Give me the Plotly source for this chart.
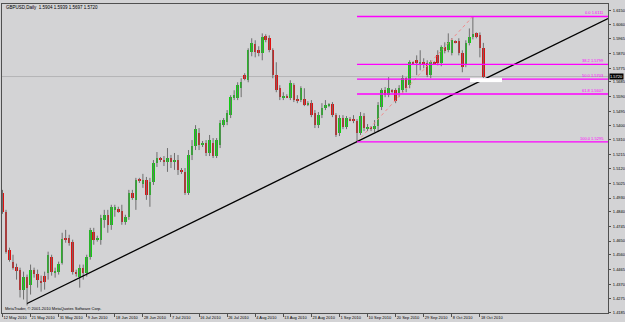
import plotly.graph_objects as go

# ---------------- data ----------------
symbol_title = "GBPUSD,Daily"
credit_text = "MetaTrader, \u00a9 2001-2010 MetaQuotes Software Corp."

date_label_bars = [0, 8, 16, 24, 32, 40, 48, 56, 64, 72, 80, 88, 96, 104, 112, 120, 128, 136]
date_labels = ["12 May 2010", "21 May 2010", "31 May 2010", "9 Jun 2010", "18 Jun 2010",
               "28 Jun 2010", "7 Jul 2010", "16 Jul 2010", "26 Jul 2010", "4 Aug 2010",
               "13 Aug 2010", "23 Aug 2010", "1 Sep 2010", "10 Sep 2010", "20 Sep 2010",
               "29 Sep 2010", "8 Oct 2010", "18 Oct 2010"]

price_ticks = [1.6150, 1.6060, 1.5965, 1.5870, 1.5775, 1.5685, 1.5590, 1.5495, 1.5400,
               1.5310, 1.5215, 1.5120, 1.5025, 1.4930, 1.4840, 1.4745, 1.4650, 1.4560,
               1.4465, 1.4370, 1.4275, 1.4185]

opens = [1.4963, 1.4840, 1.4594, 1.4516, 1.4484, 1.4464, 1.4334, 1.4419, 1.4367, 1.4464,
         1.4438, 1.4393, 1.4425, 1.4445, 1.4548, 1.4445, 1.4451, 1.4509, 1.4672, 1.4672,
         1.4646, 1.4451, 1.4419, 1.4477, 1.4445, 1.4548, 1.4711, 1.4659, 1.4659, 1.4788,
         1.4821, 1.4756, 1.4853, 1.4860, 1.4847, 1.4775, 1.4808, 1.4963, 1.4918, 1.5048,
         1.5022, 1.5048, 1.4950, 1.5035, 1.5158, 1.5190, 1.5177, 1.5164, 1.5190, 1.5164,
         1.5177, 1.5113, 1.5100, 1.4963, 1.5210, 1.5268, 1.5352, 1.5275, 1.5288, 1.5223,
         1.5288, 1.5203, 1.5275, 1.5404, 1.5424, 1.5469, 1.5580, 1.5580, 1.5644, 1.5729,
         1.5696, 1.5878, 1.5930, 1.5891, 1.5871, 1.5982, 1.5969, 1.5891, 1.5729, 1.5644,
         1.5586, 1.5592, 1.5580, 1.5664, 1.5573, 1.5567, 1.5573, 1.5534, 1.5547, 1.5482,
         1.5404, 1.5469, 1.5515, 1.5534, 1.5541, 1.5469, 1.5352, 1.5450, 1.5391, 1.5443,
         1.5443, 1.5430, 1.5352, 1.5463, 1.5385, 1.5391, 1.5378, 1.5398, 1.5521, 1.5631,
         1.5599, 1.5631, 1.5631, 1.5612, 1.5631, 1.5709, 1.5664, 1.5813, 1.5826, 1.5806,
         1.5813, 1.5806, 1.5729, 1.5813, 1.5858, 1.5806, 1.5910, 1.5891, 1.5871, 1.5949,
         1.5949, 1.5871, 1.5793, 1.5936, 1.5975, 1.6001, 1.5988, 1.5904]

highs = [1.4983, 1.4853, 1.4607, 1.4561, 1.4503, 1.4477, 1.4451, 1.4432, 1.4497, 1.4477,
         1.4464, 1.4425, 1.4451, 1.4581, 1.4561, 1.4477, 1.4516, 1.4704, 1.4723, 1.4691,
         1.4659, 1.4464, 1.4497, 1.4497, 1.4561, 1.4736, 1.4736, 1.4685, 1.4821, 1.4853,
         1.4853, 1.4886, 1.4886, 1.4873, 1.4886, 1.4821, 1.4983, 1.4983, 1.5061, 1.5061,
         1.5087, 1.5067, 1.5061, 1.5177, 1.5229, 1.5197, 1.5203, 1.5255, 1.5210, 1.5223,
         1.5210, 1.5125, 1.5125, 1.5242, 1.5307, 1.5404, 1.5385, 1.5301, 1.5307, 1.5340,
         1.5320, 1.5320, 1.5437, 1.5450, 1.5502, 1.5599, 1.5631, 1.5683, 1.5709, 1.5742,
         1.5904, 1.5969, 1.5956, 1.5917, 1.6001, 1.5995, 1.5988, 1.5904, 1.5813, 1.5664,
         1.5618, 1.5605, 1.5696, 1.5677, 1.5599, 1.5657, 1.5644, 1.5560, 1.5567, 1.5502,
         1.5489, 1.5547, 1.5567, 1.5547, 1.5554, 1.5482, 1.5469, 1.5469, 1.5463, 1.5456,
         1.5469, 1.5443, 1.5489, 1.5482, 1.5411, 1.5398, 1.5437, 1.5554, 1.5644, 1.5651,
         1.5716, 1.5638, 1.5644, 1.5664, 1.5729, 1.5716, 1.5826, 1.5819, 1.5858, 1.5891,
         1.5839, 1.5826, 1.5826, 1.5819, 1.5891, 1.5923, 1.5943, 1.6001, 1.5969, 1.5956,
         1.5969, 1.5891, 1.5956, 1.6033, 1.6111, 1.6007, 1.6007, 1.5939]

lows = [1.4827, 1.4568, 1.4516, 1.4464, 1.4399, 1.4283, 1.4270, 1.4231, 1.4302, 1.4412,
        1.4347, 1.4321, 1.4334, 1.4399, 1.4425, 1.4412, 1.4432, 1.4497, 1.4639, 1.4620,
        1.4432, 1.4419, 1.4347, 1.4399, 1.4419, 1.4529, 1.4626, 1.4646, 1.4626, 1.4736,
        1.4704, 1.4723, 1.4808, 1.4834, 1.4756, 1.4756, 1.4788, 1.4918, 1.4853, 1.5028,
        1.4996, 1.4918, 1.4873, 1.5015, 1.5132, 1.5164, 1.5138, 1.5100, 1.5125, 1.5113,
        1.5080, 1.5087, 1.4950, 1.4950, 1.5177, 1.5242, 1.5242, 1.5262, 1.5203, 1.5203,
        1.5190, 1.5190, 1.5255, 1.5391, 1.5404, 1.5450, 1.5567, 1.5567, 1.5586, 1.5696,
        1.5683, 1.5852, 1.5845, 1.5852, 1.5826, 1.5943, 1.5878, 1.5709, 1.5618, 1.5567,
        1.5567, 1.5580, 1.5567, 1.5554, 1.5547, 1.5554, 1.5528, 1.5528, 1.5456, 1.5385,
        1.5385, 1.5450, 1.5502, 1.5521, 1.5456, 1.5327, 1.5333, 1.5378, 1.5378, 1.5430,
        1.5417, 1.5295, 1.5340, 1.5365, 1.5365, 1.5365, 1.5359, 1.5359, 1.5502, 1.5586,
        1.5586, 1.5612, 1.5547, 1.5586, 1.5612, 1.5618, 1.5644, 1.5800, 1.5729, 1.5761,
        1.5774, 1.5716, 1.5709, 1.5800, 1.5793, 1.5787, 1.5871, 1.5878, 1.5858, 1.5936,
        1.5858, 1.5748, 1.5781, 1.5923, 1.5962, 1.5969, 1.5845, 1.5697]

closes = [1.4840, 1.4581, 1.4529, 1.4477, 1.4458, 1.4334, 1.4419, 1.4347, 1.4464, 1.4438,
          1.4399, 1.4380, 1.4386, 1.4561, 1.4451, 1.4458, 1.4503, 1.4665, 1.4659, 1.4639,
          1.4451, 1.4438, 1.4477, 1.4445, 1.4548, 1.4723, 1.4659, 1.4672, 1.4801, 1.4821,
          1.4756, 1.4873, 1.4873, 1.4840, 1.4775, 1.4808, 1.4963, 1.4931, 1.5048, 1.5041,
          1.5048, 1.4950, 1.5035, 1.5158, 1.5190, 1.5177, 1.5164, 1.5190, 1.5164, 1.5177,
          1.5113, 1.5100, 1.4963, 1.5210, 1.5268, 1.5378, 1.5275, 1.5288, 1.5223, 1.5307,
          1.5203, 1.5307, 1.5417, 1.5437, 1.5482, 1.5586, 1.5599, 1.5664, 1.5683, 1.5703,
          1.5891, 1.5936, 1.5878, 1.5871, 1.5975, 1.5956, 1.5891, 1.5729, 1.5631, 1.5586,
          1.5592, 1.5586, 1.5677, 1.5567, 1.5560, 1.5644, 1.5534, 1.5547, 1.5469, 1.5404,
          1.5469, 1.5515, 1.5534, 1.5541, 1.5469, 1.5340, 1.5450, 1.5391, 1.5450, 1.5437,
          1.5430, 1.5352, 1.5463, 1.5385, 1.5391, 1.5378, 1.5398, 1.5534, 1.5631, 1.5599,
          1.5644, 1.5618, 1.5560, 1.5644, 1.5709, 1.5644, 1.5813, 1.5806, 1.5806, 1.5813,
          1.5800, 1.5729, 1.5813, 1.5806, 1.5806, 1.5910, 1.5884, 1.5943, 1.5956, 1.5943,
          1.5871, 1.5781, 1.5936, 1.5975, 1.5995, 1.5975, 1.5904, 1.5720]

trend_bars = [7, 137]
trend_prices = [1.4244, 1.5700]

fib_levels = [0.0, 38.2, 50.0, 61.8, 100.0]
fib_high, fib_low = 1.6111, 1.5295
fib_high_bar, fib_low_bar = 134, 101

white_mark_bars = [133.2, 142.3]
white_mark_price = 1.5697

x_range = [-0.14, 172.5]
y_range = [1.4182, 1.6192]

# ---------------- styles ----------------
BG = "#d3d3d5"
AXIS = "#505050"
BULL = "#12cc12"
BEAR = "#e01010"
WICK = "#6e6e6e"
FIB = "#ff00ff"
FONT = "Liberation Sans"
FS = 4

n = len(opens)
idx = list(range(n))

wx, wy = [], []
for i in idx:
    wx += [i, i, None]
    wy += [lows[i], highs[i], None]

min_body = 0.00025
bull = [i for i in idx if closes[i] >= opens[i]]
bear = [i for i in idx if closes[i] < opens[i]]


def bodies(sel):
    base = [min(opens[i], closes[i]) for i in sel]
    hgt = [max(abs(closes[i] - opens[i]), min_body) for i in sel]
    return base, hgt


fig = go.Figure()
fig.add_trace(go.Scatter(x=wx, y=wy, mode="lines", line=dict(color=WICK, width=1),
                         hoverinfo="skip"))
for sel, col in ((bull, BULL), (bear, BEAR)):
    b, h = bodies(sel)
    fig.add_trace(go.Bar(x=sel, y=h, base=b, width=0.72,
                         marker=dict(color=col, line=dict(width=0))))

# fib diagonal (dotted)
fig.add_trace(go.Scatter(x=[fib_low_bar, fib_high_bar], y=[fib_low, fib_high], mode="lines",
                         line=dict(color="#f28a8a", width=1, dash="dot")))

# trend line (ray to the right edge)
slope = (trend_prices[1] - trend_prices[0]) / (trend_bars[1] - trend_bars[0])
t_end = trend_prices[0] + slope * (x_range[1] - trend_bars[0])
fig.add_trace(go.Scatter(x=[trend_bars[0], x_range[1]], y=[trend_prices[0], t_end],
                         mode="lines", line=dict(color="black", width=1.3)))

shapes = []
annotations = []
last_close = closes[-1]
# bid line
shapes.append(dict(type="line", xref="paper", yref="y", x0=0, x1=1, y0=last_close,
                   y1=last_close, line=dict(color="#b4b4b6", width=1), layer="below"))
# fib levels
for lv in fib_levels:
    p = round(fib_high - lv / 100.0 * (fib_high - fib_low), 4)
    shapes.append(dict(type="line", xref="x", yref="y", x0=fib_low_bar, x1=x_range[1],
                       y0=p, y1=p, line=dict(color=FIB, width=1.4), layer="above"))
    annotations.append(dict(xref="paper", yref="y", x=0.997, y=p, xanchor="right",
                            yanchor="bottom", text=f"{lv:.1f} {p:.4f}", showarrow=False,
                            font=dict(family=FONT, size=FS, color=FIB), yshift=-1))
# white mark
shapes.append(dict(type="line", xref="x", yref="y", x0=white_mark_bars[0],
                   x1=white_mark_bars[1], y0=white_mark_price, y1=white_mark_price,
                   line=dict(color="white", width=4), layer="above"))

annotations.append(dict(xref="paper", yref="paper", x=0.003, y=0.99, xanchor="left",
                        yanchor="middle", showarrow=False,
                        text=f"{symbol_title}  {opens[-1]:.4f} {highs[-1]:.4f} {lows[-1]:.4f} {closes[-1]:.4f}",
                        font=dict(family=FONT, size=4.5, color="black")))
annotations.append(dict(xref="paper", yref="paper", x=0.002, y=0.015, xanchor="left",
                        yanchor="middle", showarrow=False, text=credit_text,
                        font=dict(family=FONT, size=FS, color="black")))
annotations.append(dict(xref="paper", yref="y", x=1.0, y=last_close, xanchor="left",
                        yanchor="middle", showarrow=False, text=f"{last_close:.4f}",
                        bgcolor="black", borderpad=0, xshift=1,
                        font=dict(family=FONT, size=FS, color="white")))

fig.update_layout(
    width=625, height=322,
    margin=dict(l=2, r=17, t=4, b=9, autoexpand=False),
    paper_bgcolor=BG, plot_bgcolor=BG,
    showlegend=False, barmode="overlay", bargap=0,
    font=dict(family=FONT, size=FS, color="black"),
    shapes=shapes, annotations=annotations,
    xaxis=dict(range=x_range, showgrid=False, zeroline=False, showline=True,
               linecolor=AXIS, linewidth=1, mirror=True, tickmode="array",
               tickvals=date_label_bars, ticktext=date_labels, ticks="outside",
               ticklen=3, tickcolor=AXIS, ticklabelposition="outside right",
               tickangle=0, automargin=False,
               tickfont=dict(family=FONT, size=FS, color="black")),
    yaxis=dict(range=y_range, side="right", showgrid=False, zeroline=False,
               showline=True, linecolor=AXIS, linewidth=1, mirror=True,
               tickmode="array", tickvals=price_ticks, automargin=False,
               ticktext=[f"{v:.4f}" for v in price_ticks], ticks="outside", ticklen=2,
               ticklabelstandoff=1,
               tickcolor=AXIS, tickfont=dict(family=FONT, size=FS, color="black")),
)

fig.write_html("out.html")
